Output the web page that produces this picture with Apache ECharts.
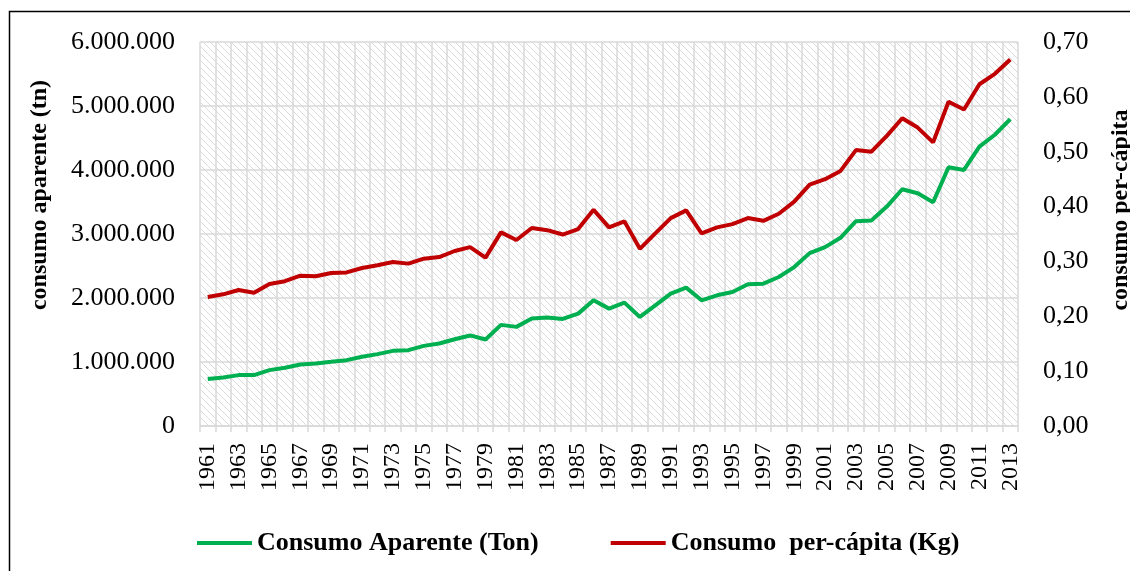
<!DOCTYPE html>
<html>
<head>
<meta charset="utf-8">
<script src="https://cdn.jsdelivr.net/npm/echarts@6/dist/echarts.min.js"></script>
<style>
  html, body { margin: 0; padding: 0; background: #fff; }
  #main { width: 1130px; height: 571px; }
</style>
</head>
<body>
<div id="main"></div>
<script>
var myChart = echarts.init(document.getElementById('main'));

var years = [];
for (var y = 1961; y <= 2013; y++) years.push(String(y));

// consumo aparente (ton)
var consumoAparente = [
    733000, 759000, 795000, 795000, 873000, 909000, 962000, 978000, 1003000, 1029000,
    1081000, 1123000, 1174000, 1185000, 1252000, 1289000, 1356000, 1415000, 1351000, 1580000,
    1549000, 1678000, 1694000, 1673000, 1756000, 1964000, 1834000, 1928000, 1704000, 1886000,
    2068000, 2162000, 1964000, 2042000, 2094000, 2214000, 2224000, 2328000, 2483000, 2701000,
    2795000, 2941000, 3200000, 3211000, 3429000, 3699000, 3636000, 3496000, 4042000, 4001000,
    4364000, 4551000, 4796000
];

// consumo per-capita (kg)
var consumoPerCapita = [
    0.235, 0.240, 0.248, 0.243, 0.259, 0.264, 0.274, 0.273, 0.279, 0.280,
    0.288, 0.293, 0.299, 0.296, 0.305, 0.308, 0.319, 0.326, 0.307, 0.353,
    0.339, 0.361, 0.357, 0.349, 0.359, 0.394, 0.362, 0.373, 0.323, 0.351,
    0.379, 0.393, 0.351, 0.362, 0.368, 0.379, 0.374, 0.387, 0.409, 0.440,
    0.450, 0.465, 0.503, 0.500, 0.529, 0.561, 0.544, 0.517, 0.591, 0.577,
    0.623, 0.642, 0.668
];

var seriesNames = ['Consumo Aparente (Ton)', 'Consumo  per-cápita (Kg)'];

// hatched plot background
var pat = document.createElement('canvas');
pat.width = 7; pat.height = 7;
var ctx = pat.getContext('2d');
ctx.fillStyle = '#fff';
ctx.fillRect(0, 0, 7, 7);
ctx.strokeStyle = '#dadada';
ctx.lineWidth = 1;
for (var k = -1; k <= 1; k++) {
    ctx.beginPath();
    ctx.moveTo(k * 7 - 1, -1);
    ctx.lineTo(k * 7 + 8, 8);
    ctx.stroke();
}

var font = 'Liberation Serif';
var gridColor = '#d9d9d9';

option = {
    backgroundColor: '#fff',
    animation: false,
    graphic: [{
        type: 'rect',
        shape: { x: 9.5, y: 11.5, width: 1300, height: 800 },
        style: { fill: 'none', stroke: '#000', lineWidth: 1.5 },
        silent: true
    }],
    grid: {
        left: 200, right: 112, top: 42, bottom: 145,
        outerBoundsMode: 'none',
        containLabel: false,
        show: true,
        borderWidth: 0,
        backgroundColor: { image: pat, repeat: 'repeat' }
    },
    legend: {
        left: 197,
        top: 530,
        padding: 0,
        icon: 'rect',
        itemWidth: 55,
        itemHeight: 4,
        itemGap: 72,
        data: seriesNames,
        textStyle: { fontFamily: font, fontWeight: 'bold', fontSize: 26, color: '#000' }
    },
    xAxis: {
        type: 'category',
        data: years,
        boundaryGap: true,
        axisLine: { lineStyle: { color: gridColor, width: 1.5 } },
        axisTick: { show: true, interval: 0, length: 6, lineStyle: { color: gridColor, width: 1.5 } },
        splitLine: { show: true, interval: 0, lineStyle: { color: gridColor, width: 1.5 } },
        axisLabel: {
            interval: 1,
            rotate: 90,
            margin: 17,
            fontFamily: font,
            fontSize: 24,
            color: '#000'
        }
    },
    yAxis: [{
        type: 'value',
        min: 0,
        max: 6000000,
        interval: 1000000,
        name: 'consumo aparente (tn)',
        nameLocation: 'middle',
        nameRotate: 90,
        nameGap: 148,
        nameTextStyle: { fontFamily: font, fontWeight: 'bold', fontSize: 24, color: '#000', padding: [0, 0, 0, 78] },
        axisLine: { show: false },
        axisTick: { show: false },
        splitLine: { show: true, lineStyle: { color: gridColor, width: 1.5 } },
        axisLabel: {
            margin: 25,
            fontFamily: font,
            fontSize: 26,
            color: '#000',
            formatter: function (v) {
                return String(Math.round(v)).replace(/\B(?=(\d{3})+(?!\d))/g, '.');
            }
        }
    }, {
        type: 'value',
        min: 0,
        max: 0.7,
        interval: 0.1,
        position: 'right',
        name: 'consumo per-cápita',
        nameLocation: 'middle',
        nameRotate: 90,
        nameGap: 91,
        nameTextStyle: { fontFamily: font, fontWeight: 'bold', fontSize: 24, color: '#000', padding: [0, 0, 0, 48] },
        axisLine: { show: false },
        axisTick: { show: false },
        splitLine: { show: false },
        axisLabel: {
            margin: 25,
            fontFamily: font,
            fontSize: 26,
            color: '#000',
            formatter: function (v) {
                return v.toFixed(2).replace('.', ',');
            }
        }
    }],
    series: [{
        name: seriesNames[0],
        type: 'line',
        yAxisIndex: 0,
        data: consumoAparente,
        symbol: 'none',
        lineStyle: { color: '#00b050', width: 4 },
        itemStyle: { color: '#00b050' }
    }, {
        name: seriesNames[1],
        type: 'line',
        yAxisIndex: 1,
        data: consumoPerCapita,
        symbol: 'none',
        lineStyle: { color: '#c00000', width: 4 },
        itemStyle: { color: '#c00000' }
    }]
};

myChart.setOption(option);
</script>
</body>
</html>
